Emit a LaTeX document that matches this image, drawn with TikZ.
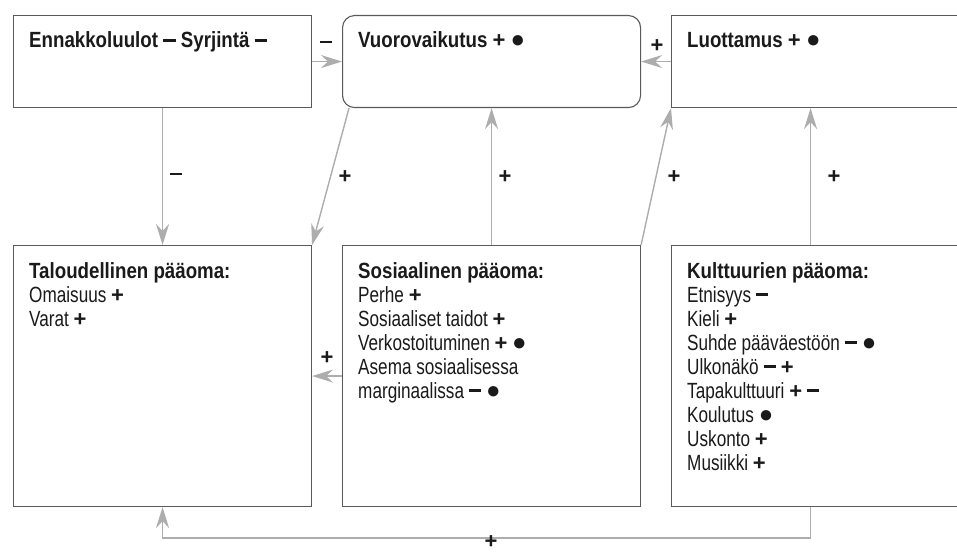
\documentclass[tikz,border=0pt]{standalone}
\usepackage{fontspec}
\setmainfont{Liberation Sans}[FakeStretch=0.78, BoldFeatures={FakeStretch=0.85}]
\newfontfamily\plainfont{Liberation Sans}
\usetikzlibrary{arrows.meta}
\definecolor{boxgray}{HTML}{5A5A5A}
\definecolor{arrgray}{HTML}{ADADAD}
\definecolor{txtcol}{HTML}{1A1A1A}
\newcommand\pl{{\plainfont\bfseries +}}
\newcommand\mi{\rule[6.3pt]{12.5pt}{2.6pt}}
\newcommand\bu{{\plainfont\fontsize{24}{24}\selectfont ●}}
\newcommand\fs{\rule{0pt}{18pt}}
\begin{document}
\begin{tikzpicture}[x=1pt,y=-1pt,
  box/.style={draw=boxgray, line width=1.1pt, inner sep=0, anchor=north west},
  ttl/.style={anchor=base west, inner sep=0, text=txtcol, font=\fontsize{22}{24}\selectfont\bfseries},
  txt/.style={anchor=north west, inner sep=0, align=left, text=txtcol, font=\fontsize{22}{24}\selectfont},
  conn/.style={draw=arrgray, line width=1.4pt, -{Stealth[length=21pt,width=13pt,inset=7pt]}},
  sign/.style={font=\fontsize{22}{22}\selectfont\plainfont\bfseries, inner sep=0, text=txtcol}]
\clip (0,0) rectangle (957,553);
\fill[white] (0,0) rectangle (957,553);
% top row
\node[box, minimum width=298pt, minimum height=92pt] (A) at (13,15) {};
\node[box, minimum width=298pt, minimum height=92pt, rounded corners=12pt] (B) at (342,15) {};
\node[box, minimum width=298pt, minimum height=92pt] (C) at (671,15) {};
% bottom row
\node[box, minimum width=298pt, minimum height=261pt] (D) at (13,245) {};
\node[box, minimum width=298pt, minimum height=261pt] (E) at (342,245) {};
\node[box, minimum width=298pt, minimum height=261pt] (F) at (671,245) {};
% texts
\node[ttl] (tA) at (29,48) {Ennakkoluulot \mi\ Syrjintä \mi};
\node[ttl] (tB) at (358,48) {Vuorovaikutus \pl\ \bu};
\node[ttl] (tC) at (687,48) {Luottamus \pl\ \bu};
\node[txt] (tD) at (29,260) {\fs\textbf{Taloudellinen pääoma:}\\Omaisuus \pl\\Varat \pl};
\node[txt] (tE) at (358,260) {\fs\textbf{Sosiaalinen pääoma:}\\Perhe \pl\\Sosiaaliset taidot \pl\\Verkostoituminen \pl\ \bu\\Asema sosiaalisessa\\marginaalissa \mi\ \bu};
\node[txt] (tF) at (687,260) {\fs\textbf{Kulttuurien pääoma:}\\Etnisyys \mi\\Kieli \pl\\Suhde pääväestöön \mi\ \bu\\Ulkonäkö \mi\ \pl\\Tapakulttuuri \pl\ \mi\\Koulutus \bu\\Uskonto \pl\\Musiikki \pl};
% connectors
\draw[conn] (A.east) -- (B.west);
\draw[conn] (C.west) -- (B.east);
\draw[conn] (A.south) -- (D.north);
\draw[conn] ([xshift=7pt]B.south west) -- (D.north east);
\draw[conn] (E.north) -- (B.south);
\draw[conn] (E.north east) -- (C.south west);
\draw[conn] ([xshift=-10pt]F.north) -- ([xshift=-10pt]C.south);
\draw[conn] (E.west) -- (D.east);
\coordinate (fd) at ([xshift=-10pt]F.south);
\draw[conn] (fd) -- ++(0,31) -| (D.south);
% signs
\node[sign] (s1) at (326,45) {\mi};
\node[sign] (s2) at (657,46) {+};
\node[sign] (s3) at (176,177) {\mi};
\node[sign] (s4) at (345,177) {+};
\node[sign] (s5) at (505,177) {+};
\node[sign] (s6) at (674,177) {+};
\node[sign] (s7) at (834,177) {+};
\node[sign] (s8) at (327,358) {+};
\node[sign] (s9) at (491,542) {+};
\end{tikzpicture}
\end{document}
